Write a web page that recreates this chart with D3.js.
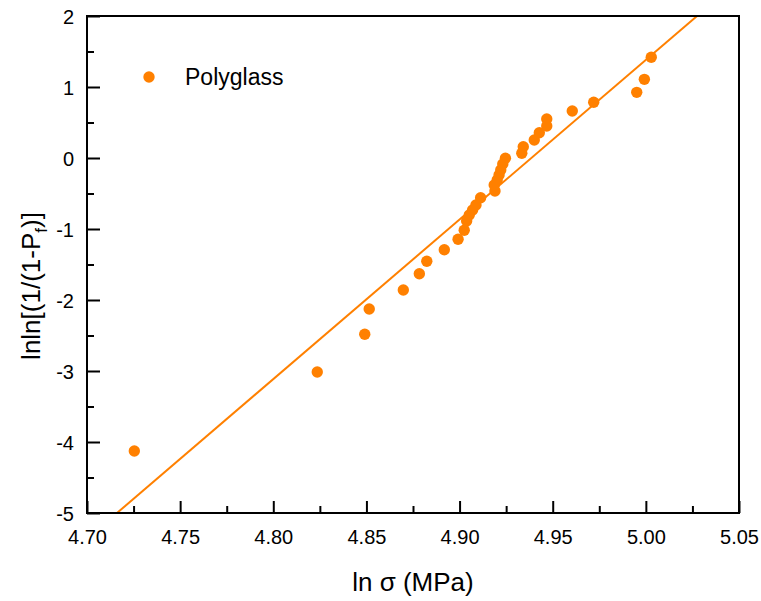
<!DOCTYPE html>
<html>
<head>
<meta charset="utf-8">
<script src="https://cdn.jsdelivr.net/npm/d3@7"></script>
<style>
  body { margin: 0; background: #fff; }
  svg { display: block; }
  text { font-family: "Liberation Sans", Arial, sans-serif; fill: #000; }
</style>
</head>
<body>
<script>
// ---- data ----
const lnSigma = [4.7254, 4.8236, 4.8491, 4.8515, 4.8698, 4.8784, 4.8824, 4.8918, 4.8992, 4.9025,
  4.9038, 4.9052, 4.9070, 4.9088, 4.9113, 4.9190, 4.9186, 4.9202, 4.9212, 4.9221,
  4.9232, 4.9246, 4.9334, 4.9342, 4.9401, 4.9428, 4.9468, 4.9468, 4.9605, 4.9720,
  4.9951, 4.9992, 5.0029];
const lnlnP = [-4.127, -3.014, -2.483, -2.127, -1.859, -1.630, -1.455, -1.292, -1.145, -1.018,
  -0.887, -0.803, -0.732, -0.662, -0.559, -0.465, -0.380, -0.310, -0.239, -0.169,
  -0.085, -0.004, 0.066, 0.159, 0.254, 0.356, 0.451, 0.549, 0.662, 0.785,
  0.925, 1.108, 1.418];
const fitSlope = 22.48;
const fitIntercept = -111.018;
const seriesName = "Polyglass";
const xTicks = [4.70, 4.75, 4.80, 4.85, 4.90, 4.95, 5.00, 5.05];
const yTicks = [-5, -4, -3, -2, -1, 0, 1, 2];
const xDomain = [4.70, 5.05];
const yDomain = [-5, 2];

// ---- layout ----
const W = 761, H = 601;
const L = 87, R = 739, T = 16, B = 513;
const orange = "#FF8000";

const svg = d3.select("body").append("svg").attr("width", W).attr("height", H);

const x = d3.scaleLinear().domain(xDomain).range([L, R]);
const y = d3.scaleLinear().domain(yDomain).range([B, T]);

svg.append("defs").append("clipPath").attr("id", "clip")
  .append("rect").attr("x", L).attr("y", T).attr("width", R - L).attr("height", B - T);

// minor ticks
const xMinor = d3.range(xDomain[0] + 0.025, xDomain[1], 0.05);
const yMinor = d3.range(yDomain[0] + 0.5, yDomain[1], 1);

const xAxis = svg.append("g").attr("transform", `translate(0,${B})`)
  .call(d3.axisBottom(x).tickValues(xTicks).tickSize(-12).tickPadding(0).tickFormat(d3.format(".2f")));
xAxis.select(".domain").remove();
xAxis.selectAll(".tick line").attr("stroke", "#000").attr("stroke-width", 2);
xAxis.selectAll(".tick text").attr("font-size", 20).attr("dy", null).attr("y", 31);

const xAxisMinor = svg.append("g").attr("transform", `translate(0,${B})`)
  .call(d3.axisBottom(x).tickValues(xMinor).tickSize(-7).tickFormat(""));
xAxisMinor.select(".domain").remove();
xAxisMinor.selectAll(".tick line").attr("stroke", "#000").attr("stroke-width", 2);

const yFmt = d => String(d).replace("\u2212", "-");
const yAxis = svg.append("g").attr("transform", `translate(${L},0)`)
  .call(d3.axisLeft(y).tickValues(yTicks).tickSize(-13).tickPadding(0).tickFormat(yFmt));
yAxis.select(".domain").remove();
yAxis.selectAll(".tick line").attr("stroke", "#000").attr("stroke-width", 2);
yAxis.selectAll(".tick text").attr("font-size", 20).attr("x", -13).attr("dy", "0.35em");

const yAxisMinor = svg.append("g").attr("transform", `translate(${L},0)`)
  .call(d3.axisLeft(y).tickValues(yMinor).tickSize(-7).tickFormat(""));
yAxisMinor.select(".domain").remove();
yAxisMinor.selectAll(".tick line").attr("stroke", "#000").attr("stroke-width", 2);

// fit line
const plot = svg.append("g").attr("clip-path", "url(#clip)");
plot.append("line")
  .attr("x1", x(xDomain[0])).attr("y1", y(fitSlope * xDomain[0] + fitIntercept))
  .attr("x2", x(xDomain[1])).attr("y2", y(fitSlope * xDomain[1] + fitIntercept))
  .attr("stroke", orange).attr("stroke-width", 2);

// points
svg.append("g").selectAll("circle")
  .data(lnSigma.map((v, i) => [v, lnlnP[i]]))
  .join("circle")
  .attr("cx", d => x(d[0])).attr("cy", d => y(d[1]))
  .attr("r", 5.7).attr("fill", orange);

// frame
svg.append("rect").attr("x", L).attr("y", T).attr("width", R - L).attr("height", B - T)
  .attr("fill", "none").attr("stroke", "#000").attr("stroke-width", 2);

// legend
svg.append("circle").attr("cx", 149).attr("cy", 77).attr("r", 5.7).attr("fill", orange);
svg.append("text").attr("x", 185).attr("y", 85).attr("font-size", 23).text(seriesName);

// axis titles
svg.append("text").attr("x", (L + R) / 2 - 0).attr("y", 591).attr("text-anchor", "middle")
  .attr("font-size", 26).text("ln \u03c3 (MPa)");

const yt = svg.append("text").attr("transform", "translate(40,286) rotate(-90)")
  .attr("text-anchor", "middle").attr("font-size", 26);
yt.append("tspan").text("lnln[(1/(1-P");
yt.append("tspan").attr("font-size", 17).attr("dy", 7).text("f");
yt.append("tspan").attr("dy", -7).text(")]");
</script>
</body>
</html>
